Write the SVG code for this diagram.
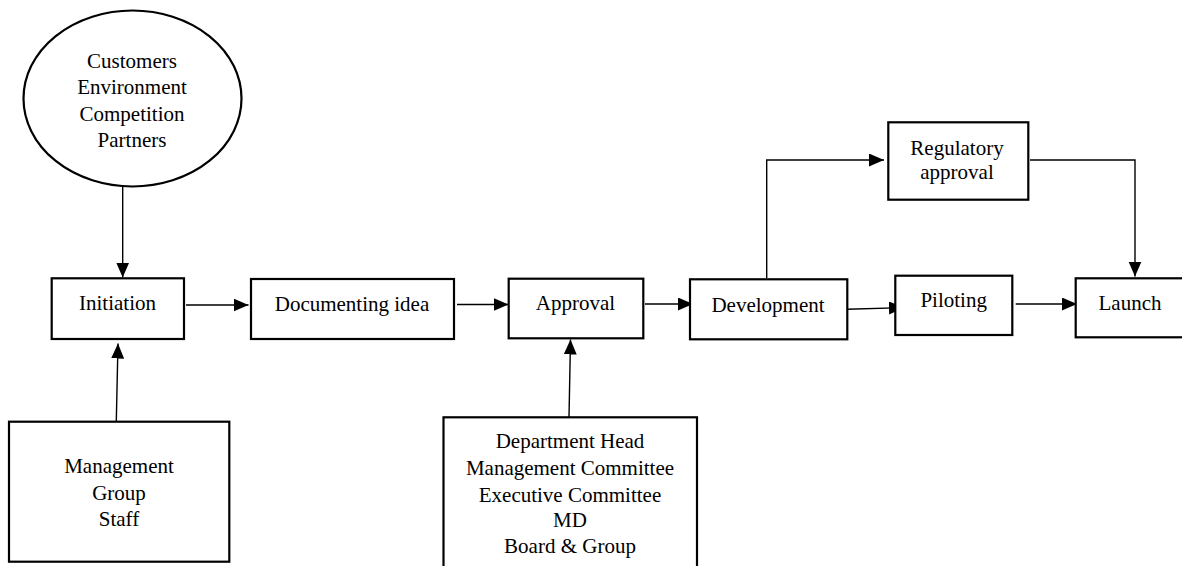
<svg xmlns="http://www.w3.org/2000/svg" width="1182" height="566" viewBox="0 0 1182 566">
  <style>
    .box { fill: #fff; stroke: #000; stroke-width: 2.2; }
    .edge { fill: none; stroke: #000; stroke-width: 1.4; }
    text { font-family: 'Liberation Serif', Tinos, 'Times New Roman', 'Nimbus Roman', 'DejaVu Serif', 'Noto Serif', serif; font-size: 21px; fill: #000; text-anchor: middle; }
  </style>
  <defs>
    <marker id="arrow" markerUnits="userSpaceOnUse" markerWidth="16" markerHeight="14" refX="15" refY="6.5" orient="auto">
      <path d="M0,0 L15,6.5 L0,13 Z" fill="#000"/>
    </marker>
  </defs>
  <rect width="1182" height="566" fill="#fff"/>

  <!-- connectors -->
  <g id="connectors">
    <line class="edge" x1="122.7" y1="187" x2="122.7" y2="277.5" marker-end="url(#arrow)"/>
    <line class="edge" x1="116.3" y1="421" x2="118" y2="343.5" marker-end="url(#arrow)"/>
    <line class="edge" x1="186" y1="305" x2="248.5" y2="305" marker-end="url(#arrow)"/>
    <line class="edge" x1="457" y1="304.5" x2="508.5" y2="304.5" marker-end="url(#arrow)"/>
    <line class="edge" x1="569" y1="417" x2="570.5" y2="339.5" marker-end="url(#arrow)"/>
    <line class="edge" x1="645" y1="304" x2="693" y2="304" marker-end="url(#arrow)"/>
    <polyline class="edge" points="766.7,278 766.7,160 884,160" marker-end="url(#arrow)"/>
    <polyline class="edge" points="1030,160 1135,160 1135,276.5" marker-end="url(#arrow)"/>
    <line class="edge" x1="847" y1="309.3" x2="904" y2="307.6" marker-end="url(#arrow)"/>
    <line class="edge" x1="1015.7" y1="304" x2="1077" y2="304" marker-end="url(#arrow)"/>
  </g>

  <!-- external factors -->
  <g id="factors">
    <ellipse class="box" cx="132.5" cy="98.5" rx="109" ry="88"/>
    <text x="132" y="68">Customers</text>
    <text x="132" y="94.3">Environment</text>
    <text x="132" y="120.5">Competition</text>
    <text x="132" y="146.7">Partners</text>
  </g>

  <g id="initiation">
    <rect class="box" x="51.7" y="278.3" width="132.3" height="60.7"/>
    <text x="117.5" y="310">Initiation</text>
  </g>

  <g id="sources">
    <rect class="box" x="9" y="421.7" width="220.3" height="140"/>
    <text x="119" y="473">Management</text>
    <text x="119" y="499.5">Group</text>
    <text x="119" y="526">Staff</text>
  </g>

  <g id="documenting">
    <rect class="box" x="251" y="279" width="203" height="60"/>
    <text x="352" y="310.5">Documenting idea</text>
  </g>

  <g id="approval">
    <rect class="box" x="508.7" y="278.7" width="134.6" height="59.6"/>
    <text x="575.5" y="310">Approval</text>
  </g>

  <g id="approvers">
    <rect class="box" x="443.5" y="417.3" width="253.5" height="160"/>
    <text x="570" y="448.3">Department Head</text>
    <text x="570" y="475">Management Committee</text>
    <text x="570" y="501.6">Executive Committee</text>
    <text x="570" y="526.7">MD</text>
    <text x="570" y="553.3">Board &amp; Group</text>
  </g>

  <g id="development">
    <rect class="box" x="690" y="279.3" width="157.3" height="60"/>
    <text x="768" y="311.5">Development</text>
  </g>

  <g id="regulatory">
    <rect class="box" x="888.3" y="122.3" width="140" height="77.4"/>
    <text x="957" y="154.5">Regulatory</text>
    <text x="957" y="178.5">approval</text>
  </g>

  <g id="piloting">
    <rect class="box" x="895.3" y="275.7" width="117" height="59.3"/>
    <text x="953.7" y="306.5">Piloting</text>
  </g>

  <g id="launch">
    <rect class="box" x="1075.7" y="278.3" width="120" height="59"/>
    <text x="1130" y="310">Launch</text>
  </g>
</svg>
